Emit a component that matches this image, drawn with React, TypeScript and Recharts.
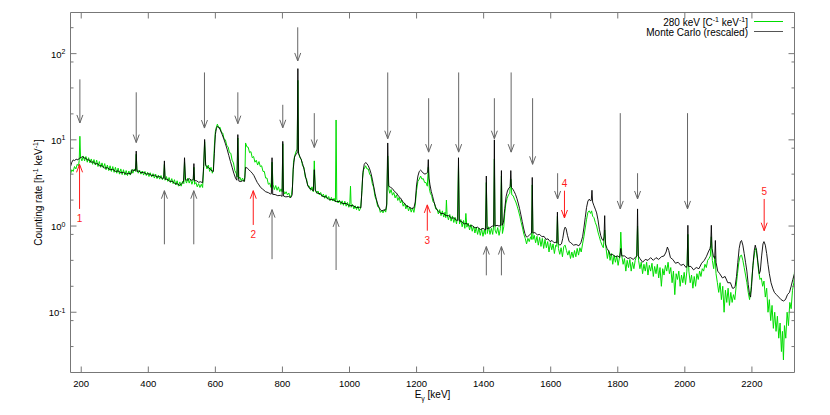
import React from 'react';
import { LineChart, Line, XAxis, YAxis, ReferenceLine, Legend } from 'recharts';

const W = 814;
const H = 399;
const AXIS = '#777';
const GREEN = '#00dd00';
const BLACK = '#000000';
const ARROW = '#666666';
const RED = '#ff1a1a';
const FONT = '"Liberation Sans", Arial, Helvetica, sans-serif';

const X_DOMAIN: [number, number] = [168, 2327];
const Y_DOMAIN: [number, number] = [0.02, 300];
const X_TICKS = [200, 400, 600, 800, 1000, 1200, 1400, 1600, 1800, 2000, 2200];
const Y_MAJOR = [0.1, 1, 10, 100];
const Y_MINOR = [0.04, 0.08, 0.2, 0.4, 0.8, 2, 4, 8, 20, 40, 80, 200];
const Y_TICKS = [...Y_MINOR, ...Y_MAJOR].sort((a, b) => a - b);
const Y_EXP: Record<string, string> = { '0.1': '-1', '1': '0', '10': '1', '100': '2' };

// Measured spectrum, 280 keV [C^-1 keV^-1]: [energy keV, rate]
const measured: [number, number][] = [
[168,4.0],[172,4.5],[176,4.3],[180,4.9],[184,4.6],[188,5.2],[192,5.0],[194,5.8],[196,11],[198,6.3],[202,5.7],[206,6.5],[210,5.7],[214,6.4],[218,5.5],[222,6.2],[226,5.4],[230,6.0],[234,5.2],[238,5.9],[242,5.1],[246,5.8],[250,4.9],[254,5.6],[258,4.8],[262,5.4],[266,4.7],[270,5.3],[274,4.5],[278,5.1],[282,4.4],[286,5.0],[290,4.3],[294,4.9],[298,4.2],[302,4.8],[306,4.1],[310,4.7],[314,4.0],[318,4.6],[322,3.95],[326,4.5],[330,3.9],[334,4.4],[338,3.85],[342,4.35],[346,3.9],[350,4.5],[354,4.1],[358,4.6],[362,4.3],[364,6.8],[366,4.6],[370,4.1],[374,4.45],[378,4.0],[382,4.35],[386,3.9],[390,4.3],[394,3.85],[398,4.2],[402,3.75],[406,4.15],[410,3.7],[414,4.05],[418,3.6],[422,4.0],[426,3.55],[430,3.9],[434,3.5],[438,3.85],[442,3.45],[446,3.8],[448,5.2],[450,3.4],[454,3.75],[458,3.3],[462,3.65],[466,3.2],[470,3.55],[474,3.1],[478,3.45],[482,3.0],[486,3.35],[490,2.9],[494,3.25],[498,2.9],[502,3.3],[506,3.1],[508,5.5],[510,3.5],[514,3.15],[518,3.6],[522,3.15],[526,3.5],[530,3.05],[534,3.4],[536,4.8],[538,3.05],[542,3.2],[546,2.85],[550,3.1],[554,2.8],[558,3.05],[562,2.8],[565,4.6],[568,9.5],[571,5.2],[575,4.6],[579,5.1],[583,4.3],[587,4.8],[591,4.1],[594,4.5],[597,8.5],[600,12.5],[603,14.0],[606,15.2],[610,13.8],[614,14.0],[618,12.2],[622,12.0],[626,10.2],[630,10.0],[634,8.6],[638,8.3],[642,7.1],[646,7.0],[650,5.8],[654,5.4],[658,4.4],[662,4.1],[665,3.7],[667,10.5],[669,3.5],[673,3.7],[677,3.35],[681,3.6],[685,3.3],[688,3.65],[690,9.2],[694,8.3],[698,8.2],[702,7.1],[706,7.3],[710,6.2],[714,6.4],[718,5.5],[722,5.8],[726,5.1],[730,5.6],[734,4.9],[738,5.0],[742,4.3],[746,4.3],[750,3.6],[754,3.6],[758,3.05],[762,3.15],[766,2.8],[769,5.5],[772,3.05],[776,2.65],[780,2.95],[784,2.6],[788,2.85],[792,2.5],[796,2.7],[799,2.5],[801,9.0],[803,2.6],[807,2.35],[811,2.5],[815,2.3],[819,2.42],[823,2.15],[827,2.3],[830,2.9],[833,5.5],[837,6.6],[841,7.4],[844,7.8],[846,49],[848,7.2],[852,6.2],[856,6.0],[860,5.0],[864,4.8],[868,3.7],[872,3.5],[876,2.9],[880,2.9],[884,2.6],[888,2.85],[892,2.5],[895,5.7],[898,2.65],[902,2.4],[906,2.55],[910,2.3],[914,2.45],[918,2.2],[922,2.35],[926,2.1],[930,2.3],[934,2.05],[938,2.2],[942,1.98],[946,2.15],[950,1.95],[954,2.1],[958,1.9],[960,17],[962,2.05],[966,1.85],[970,2.0],[974,1.78],[978,1.96],[982,1.74],[986,1.94],[990,1.7],[994,1.88],[998,1.65],[1001,1.85],[1003,2.9],[1005,1.65],[1009,1.78],[1013,1.58],[1017,1.72],[1021,1.55],[1025,1.7],[1029,1.5],[1033,1.62],[1036,2.2],[1039,3.6],[1042,4.5],[1045,4.7],[1048,5.0],[1052,4.6],[1056,4.6],[1060,4.0],[1064,3.8],[1068,3.1],[1072,2.8],[1076,2.2],[1080,2.0],[1084,1.68],[1088,1.65],[1092,1.44],[1096,1.52],[1100,1.42],[1104,1.55],[1108,1.45],[1111,1.72],[1114,6.5],[1117,2.7],[1120,2.4],[1124,2.65],[1128,2.28],[1132,2.45],[1136,2.12],[1140,2.3],[1144,1.98],[1148,2.15],[1152,1.85],[1156,2.0],[1160,1.7],[1164,1.85],[1168,1.58],[1172,1.75],[1176,1.5],[1180,1.66],[1184,1.45],[1188,1.62],[1192,1.44],[1196,1.75],[1200,2.6],[1204,3.3],[1208,3.5],[1212,3.8],[1216,3.5],[1220,3.55],[1224,3.2],[1228,3.2],[1232,2.9],[1235,4.8],[1238,2.75],[1241,2.4],[1245,2.25],[1249,1.92],[1253,1.85],[1257,1.58],[1261,1.58],[1265,1.38],[1269,1.55],[1273,1.32],[1277,1.5],[1281,1.27],[1285,1.45],[1287,1.25],[1289,2.0],[1291,1.35],[1295,1.18],[1299,1.36],[1303,1.14],[1307,1.31],[1311,1.1],[1315,1.26],[1319,1.06],[1322,1.24],[1325,5.0],[1328,1.06],[1332,1.19],[1336,0.98],[1340,1.16],[1344,0.94],[1347,1.4],[1350,0.97],[1354,1.08],[1358,0.9],[1362,1.04],[1366,0.87],[1370,1.0],[1374,0.83],[1378,0.97],[1382,0.8],[1386,0.95],[1390,0.78],[1394,0.93],[1398,0.76],[1402,0.9],[1405,0.8],[1408,3.2],[1411,0.82],[1415,0.98],[1419,0.8],[1423,0.94],[1427,0.8],[1430,1.02],[1432,6],[1434,0.9],[1438,0.82],[1442,0.96],[1446,0.78],[1450,0.93],[1453,3.8],[1456,0.82],[1460,0.98],[1463,1.4],[1466,1.8],[1470,2.1],[1474,2.3],[1478,2.4],[1481,3.5],[1484,2.3],[1488,2.25],[1492,2.05],[1496,1.9],[1500,1.7],[1504,1.5],[1508,1.3],[1512,1.1],[1516,0.95],[1520,0.8],[1524,0.72],[1528,0.62],[1532,0.72],[1536,0.66],[1540,0.75],[1543,0.7],[1545,3.0],[1547,0.7],[1551,0.78],[1555,0.64],[1559,0.76],[1563,0.6],[1567,0.74],[1571,0.58],[1575,0.72],[1579,0.55],[1583,0.7],[1587,0.56],[1591,0.66],[1595,0.5],[1599,0.64],[1603,0.53],[1607,0.62],[1611,0.48],[1615,0.6],[1618,0.58],[1620,1.3],[1623,0.55],[1627,0.47],[1631,0.56],[1635,0.44],[1639,0.58],[1643,0.6],[1647,0.52],[1651,0.46],[1655,0.52],[1659,0.42],[1663,0.5],[1667,0.43],[1671,0.52],[1675,0.44],[1679,0.55],[1683,0.46],[1687,0.56],[1691,0.5],[1695,0.62],[1699,0.75],[1703,0.95],[1707,1.2],[1711,1.45],[1715,1.5],[1719,1.4],[1722,1.5],[1725,1.3],[1729,1.25],[1733,1.1],[1737,1.0],[1741,0.85],[1745,0.75],[1749,0.66],[1753,0.6],[1757,0.56],[1761,0.9],[1765,0.55],[1769,0.42],[1773,0.52],[1777,0.4],[1781,0.48],[1785,0.36],[1789,0.46],[1793,0.38],[1797,0.45],[1801,0.35],[1805,0.43],[1807,0.5],[1809,0.85],[1812,0.45],[1816,0.36],[1820,0.42],[1824,0.3],[1828,0.4],[1832,0.33],[1836,0.41],[1840,0.3],[1844,0.38],[1848,0.32],[1852,0.4],[1856,0.45],[1859,1.0],[1862,0.4],[1866,0.32],[1870,0.38],[1874,0.28],[1878,0.36],[1882,0.3],[1886,0.38],[1890,0.27],[1894,0.35],[1898,0.3],[1902,0.37],[1906,0.26],[1910,0.34],[1914,0.28],[1918,0.36],[1922,0.25],[1926,0.33],[1930,0.2],[1934,0.32],[1938,0.27],[1942,0.35],[1946,0.3],[1950,0.38],[1954,0.28],[1958,0.33],[1962,0.22],[1966,0.3],[1970,0.16],[1974,0.28],[1978,0.24],[1982,0.3],[1986,0.2],[1990,0.27],[1994,0.22],[1998,0.29],[2002,0.21],[2006,0.3],[2009,0.8],[2012,0.3],[2016,0.22],[2020,0.27],[2024,0.19],[2028,0.26],[2032,0.2],[2036,0.28],[2040,0.24],[2044,0.3],[2048,0.26],[2052,0.32],[2056,0.3],[2060,0.36],[2064,0.33],[2068,0.4],[2072,0.42],[2076,0.45],[2079,0.75],[2082,0.4],[2086,0.32],[2090,0.45],[2093,0.28],[2097,0.22],[2101,0.17],[2105,0.22],[2109,0.14],[2113,0.2],[2117,0.1],[2121,0.18],[2125,0.13],[2129,0.19],[2133,0.12],[2137,0.17],[2141,0.13],[2145,0.16],[2149,0.14],[2153,0.2],[2157,0.28],[2161,0.38],[2165,0.45],[2169,0.46],[2173,0.4],[2177,0.33],[2181,0.27],[2185,0.22],[2189,0.17],[2193,0.14],[2197,0.18],[2201,0.28],[2205,0.4],[2209,0.52],[2212,0.55],[2216,0.42],[2220,0.3],[2224,0.24],[2228,0.25],[2232,0.2],[2236,0.23],[2240,0.15],[2244,0.19],[2248,0.1],[2252,0.14],[2256,0.08],[2260,0.12],[2264,0.065],[2268,0.1],[2272,0.06],[2276,0.09],[2280,0.05],[2284,0.075],[2288,0.035],[2291,0.06],[2294,0.028],[2297,0.07],[2301,0.05],[2305,0.1],[2309,0.07],[2313,0.13],[2317,0.11],[2321,0.18],[2325,0.22],[2327,0.3]
];

// Monte Carlo (rescaled): [energy keV, rate]
const monteCarlo: [number, number][] = [
[168,4.9],[172,5.5],[176,5.85],[180,5.75],[185,5.95],[190,5.85],[195,6.15],[200,6.25],[204,6.4],[208,6.15],[213,6.15],[218,5.85],[224,5.85],[230,5.5],[236,5.55],[242,5.25],[248,5.3],[255,5.0],[262,5.0],[270,4.7],[278,4.75],[286,4.5],[294,4.55],[302,4.3],[310,4.35],[318,4.15],[326,4.2],[334,4.0],[342,4.1],[348,4.0],[352,4.5],[356,4.4],[362,4.45],[364,7.4],[366,4.3],[372,4.35],[378,4.15],[386,4.2],[394,4.0],[402,4.05],[410,3.85],[418,3.9],[426,3.7],[434,3.75],[442,3.55],[446,3.6],[448,5.7],[450,3.5],[456,3.5],[464,3.3],[472,3.3],[480,3.1],[488,3.08],[494,2.95],[500,3.12],[505,3.25],[508,6.2],[511,3.45],[516,3.4],[522,3.55],[528,3.4],[534,3.45],[536,5.3],[538,3.35],[544,3.35],[550,3.22],[556,3.26],[562,3.18],[565,4.9],[568,10.1],[571,5.05],[575,4.9],[580,4.75],[585,4.55],[590,4.35],[594,4.3],[597,7],[600,11.5],[603,13.5],[606,14.3],[610,14.0],[615,13.0],[620,11.6],[625,10.3],[630,9.0],[635,7.8],[640,6.6],[645,5.6],[650,4.8],[655,4.1],[660,3.6],[664,3.4],[667,11.5],[670,3.32],[676,3.28],[682,3.37],[687,3.3],[690,4.8],[695,4.7],[700,4.5],[705,4.3],[710,4.1],[715,3.85],[720,3.5],[725,3.2],[730,3.0],[735,2.8],[740,2.7],[745,2.6],[750,2.5],[758,2.44],[764,2.36],[767,2.37],[769,6.2],[771,2.33],[778,2.32],[786,2.25],[794,2.27],[799,2.21],[801,9.6],[803,2.23],[810,2.18],[818,2.2],[825,2.14],[829,2.3],[832,4.5],[836,6.3],[840,6.8],[844,7.0],[846,67],[848,6.9],[852,6.4],[856,5.9],[860,5.3],[865,4.5],[870,3.6],[875,3.0],[880,2.75],[886,2.7],[892,2.55],[895,4.5],[898,2.6],[904,2.4],[912,2.38],[920,2.2],[930,2.18],[940,2.02],[950,2.03],[960,1.92],[970,1.93],[980,1.82],[990,1.83],[1000,1.72],[1010,1.73],[1020,1.64],[1030,1.65],[1034,1.63],[1037,2.6],[1040,4.2],[1044,5.2],[1048,5.45],[1052,5.3],[1056,5.0],[1060,4.6],[1064,4.1],[1068,3.5],[1072,2.9],[1076,2.4],[1080,2.05],[1084,1.8],[1088,1.65],[1092,1.55],[1096,1.5],[1102,1.53],[1108,1.54],[1111,1.8],[1114,9.2],[1117,2.9],[1122,2.82],[1128,2.72],[1134,2.52],[1140,2.42],[1146,2.22],[1152,2.12],[1158,1.93],[1164,1.84],[1170,1.7],[1176,1.68],[1184,1.6],[1192,1.62],[1196,1.9],[1200,3.0],[1204,3.8],[1208,4.3],[1212,4.45],[1216,4.3],[1220,4.1],[1225,4.0],[1230,4.1],[1233,4.2],[1235,5.9],[1237,3.6],[1240,3.0],[1244,2.5],[1248,2.2],[1252,1.9],[1256,1.7],[1260,1.55],[1265,1.5],[1272,1.4],[1280,1.4],[1288,1.32],[1296,1.32],[1304,1.24],[1312,1.24],[1320,1.16],[1323,1.17],[1325,6.2],[1327,1.15],[1334,1.13],[1342,1.06],[1350,1.07],[1358,1.0],[1366,1.01],[1374,0.95],[1382,0.97],[1390,0.91],[1398,0.94],[1406,0.9],[1408,3.8],[1410,0.93],[1418,0.95],[1426,1.0],[1430,0.99],[1432,10],[1434,1.0],[1440,1.02],[1446,1.0],[1451,1.02],[1453,4.4],[1455,1.02],[1459,1.1],[1463,1.6],[1467,2.2],[1471,2.55],[1475,2.75],[1479,2.85],[1481,4.4],[1483,2.8],[1487,2.68],[1491,2.52],[1495,2.33],[1499,2.1],[1503,1.85],[1507,1.6],[1511,1.35],[1515,1.13],[1519,0.95],[1523,0.82],[1527,0.75],[1531,0.75],[1537,0.79],[1543,0.83],[1545,3.66],[1547,0.83],[1553,0.84],[1560,0.79],[1567,0.8],[1574,0.75],[1580,0.76],[1586,0.7],[1592,0.71],[1598,0.66],[1604,0.68],[1610,0.64],[1616,0.65],[1618,0.64],[1620,1.45],[1622,0.63],[1627,0.6],[1632,0.62],[1636,0.72],[1640,0.9],[1643,0.97],[1646,0.93],[1650,0.78],[1655,0.66],[1660,0.64],[1668,0.6],[1676,0.61],[1684,0.59],[1690,0.64],[1695,0.75],[1699,0.95],[1703,1.25],[1707,1.65],[1711,1.95],[1715,2.05],[1719,1.95],[1721,2.0],[1723,2.6],[1725,1.9],[1729,1.72],[1733,1.57],[1737,1.42],[1741,1.18],[1745,0.92],[1749,0.78],[1753,0.7],[1757,0.68],[1759,0.75],[1761,1.32],[1763,0.62],[1768,0.55],[1773,0.51],[1778,0.46],[1785,0.47],[1792,0.44],[1800,0.45],[1806,0.43],[1809,0.55],[1812,0.45],[1820,0.45],[1830,0.42],[1838,0.43],[1846,0.41],[1852,0.43],[1857,0.45],[1859,1.58],[1861,0.45],[1866,0.42],[1874,0.38],[1882,0.41],[1890,0.4],[1898,0.43],[1906,0.4],[1914,0.43],[1922,0.41],[1930,0.44],[1938,0.45],[1944,0.5],[1948,0.57],[1952,0.52],[1957,0.43],[1964,0.41],[1972,0.37],[1980,0.38],[1988,0.35],[1996,0.36],[2004,0.33],[2007,0.35],[2009,1.02],[2011,0.34],[2018,0.34],[2026,0.31],[2034,0.33],[2042,0.32],[2050,0.37],[2058,0.4],[2064,0.44],[2070,0.5],[2075,0.55],[2077,0.6],[2079,1.02],[2081,0.55],[2085,0.45],[2089,0.42],[2091,0.68],[2093,0.38],[2098,0.3],[2104,0.28],[2112,0.25],[2120,0.26],[2128,0.22],[2136,0.22],[2142,0.19],[2146,0.19],[2150,0.2],[2154,0.26],[2158,0.38],[2162,0.55],[2166,0.66],[2169,0.68],[2173,0.6],[2177,0.48],[2181,0.38],[2185,0.3],[2189,0.21],[2193,0.16],[2196,0.15],[2199,0.2],[2203,0.35],[2207,0.52],[2210,0.6],[2214,0.52],[2218,0.38],[2222,0.28],[2225,0.3],[2229,0.45],[2233,0.62],[2236,0.66],[2240,0.6],[2244,0.48],[2248,0.36],[2252,0.28],[2257,0.22],[2262,0.19],[2267,0.17],[2273,0.16],[2280,0.15],[2287,0.14],[2294,0.135],[2300,0.14],[2306,0.16],[2312,0.17],[2317,0.2],[2322,0.24],[2327,0.28]
];

// Annotation arrows: [energy, tail value, tip value]
const downArrows: [number, number, number][] = [
  [196, 50.3, 15.7], [364, 35.6, 9.3], [567.5, 60.5, 13.7], [667, 35.6, 15.4],
  [801, 25.5, 13.8], [845.6, 202, 82.2], [895, 20.4, 8.15], [1114, 60.5, 10.3],
  [1236, 30.4, 7.2], [1325.5, 60.5, 7.2], [1432, 30.4, 10.3], [1482, 60.5, 7.2],
  [1546, 30.4, 5.2], [1620.6, 4.1, 2.06], [1807.4, 20.4, 1.58], [1859, 4.1, 2.06],
  [2008, 20.4, 1.58],
];
const upArrows: [number, number, number][] = [
  [448, 0.614, 2.57], [535.6, 0.614, 2.57], [769, 0.413, 1.55], [960, 0.309, 1.21],
  [1408, 0.268, 0.578], [1453, 0.268, 0.578],
];
// [label, energy, tail value, tip value]
const redArrows: [string, number, number, number][] = [
  ['1', 195, 1.58, 5.2], ['2', 713, 1.03, 2.57], ['3', 1232, 0.883, 1.76],
  ['4', 1641, 2.57, 1.24], ['5', 2236.6, 2.06, 0.883],
];

const measuredData = measured.map(([e, v]) => ({ e, v }));
const mcData = monteCarlo.map(([e, v]) => ({ e, v }));

const makeArrow = (color: string, label?: string) => (p: any) => {
  const x1 = Number(p.x1), y1 = Number(p.y1), x2 = Number(p.x2), y2 = Number(p.y2);
  const dx = x2 - x1, dy = y2 - y1;
  const len = Math.hypot(dx, dy) || 1;
  const ux = dx / len, uy = dy / len;
  const hl = 8, hw = 3;
  const bx = x2 - ux * hl, by = y2 - uy * hl;
  const nx = -uy, ny = ux;
  const up = y2 < y1;
  return (
    <g>
      <line x1={x1} y1={y1} x2={x2} y2={y2} stroke={color} strokeWidth={1} />
      <polyline
        points={`${bx + nx * hw},${by + ny * hw} ${x2},${y2} ${bx - nx * hw},${by - ny * hw}`}
        fill="none" stroke={color} strokeWidth={1}
      />
      {label && (
        <text x={x1} y={up ? y1 + 13 : y1 - 3.5} textAnchor="middle" fill={color}
          fontSize={10} fontFamily={FONT}>{label}</text>
      )}
    </g>
  );
};

const LeftTick = (props: any) => {
  const { x, y, payload } = props;
  const v = payload.value;
  const major = Y_MAJOR.includes(v);
  return (
    <g>
      <line x1={x} y1={y} x2={x + (major ? 6 : 3)} y2={y} stroke={AXIS} />
      {major && (
        <text x={x - 5} y={y + 4} textAnchor="end" fontSize={9.5} fontFamily={FONT} fill="#000">
          10<tspan dy={-3.5} fontSize={7}>{Y_EXP[String(v)]}</tspan>
        </text>
      )}
    </g>
  );
};

const RightTick = (props: any) => {
  const { x, y, payload } = props;
  const major = Y_MAJOR.includes(payload.value);
  return <line x1={x} y1={y} x2={x - (major ? 6 : 3)} y2={y} stroke={AXIS} />;
};

const BottomTick = (props: any) => {
  const { x, y, payload } = props;
  return (
    <g>
      <line x1={x} y1={y} x2={x} y2={y - 6} stroke={AXIS} />
      <text x={x} y={y + 14} textAnchor="middle" fontSize={9.5} fontFamily={FONT} fill="#000">
        {payload.value}
      </text>
    </g>
  );
};

const TopTick = (props: any) => {
  const { x, y } = props;
  return <line x1={x} y1={y} x2={x} y2={y + 6} stroke={AXIS} />;
};

const YLabel = (p: any) => {
  const vb = p.viewBox || {};
  const cx = vb.x + 21;
  const cy = vb.y + vb.height / 2;
  return (
    <text x={cx} y={cy} transform={`rotate(-90 ${cx} ${cy})`} textAnchor="middle"
      fontSize={10} fontFamily={FONT} fill="#000">
      Counting rate [h<tspan dy={-4} fontSize={7}>-1</tspan>
      <tspan dy={4}> keV</tspan><tspan dy={-4} fontSize={7}>-1</tspan><tspan dy={4}>]</tspan>
    </text>
  );
};

const XLabel = (p: any) => {
  const vb = p.viewBox || {};
  const cx = vb.x + vb.width / 2;
  const cy = vb.y + 25.5;
  return (
    <text x={cx} y={cy} textAnchor="middle" fontSize={10} fontFamily={FONT} fill="#000">
      E<tspan dy={3} fontSize={7}>γ</tspan><tspan dy={-3}> [keV]</tspan>
    </text>
  );
};

const LegendBox = () => (
  <svg width={190} height={26} style={{ display: 'block', overflow: 'visible' }}>
    <text x={150} y={12} textAnchor="end" fontSize={10} fontFamily={FONT} fill="#000">
      280 keV [C<tspan dy={-4} fontSize={7}>-1</tspan><tspan dy={4}> keV</tspan>
      <tspan dy={-4} fontSize={7}>-1</tspan><tspan dy={4}>]</tspan>
    </text>
    <line x1={156} x2={185} y1={7.5} y2={7.5} stroke={GREEN} strokeWidth={1} />
    <text x={150} y={21.5} textAnchor="end" fontSize={10} fontFamily={FONT} fill="#000">
      Monte Carlo (rescaled)
    </text>
    <line x1={156} x2={185} y1={17.5} y2={17.5} stroke="#555" strokeWidth={1} />
  </svg>
);

export default function App() {
  return (
    <div style={{ width: W, height: H }}>
      <LineChart width={W} height={H} margin={{ top: 3.5, right: 17.5, bottom: 0.5, left: 12.5 }}>
        <XAxis dataKey="e" type="number" domain={X_DOMAIN} allowDataOverflow ticks={X_TICKS}
          interval={0} height={34} tickSize={0} tickMargin={0} tickLine={false}
          axisLine={{ stroke: AXIS }} tick={BottomTick} label={{ content: XLabel }} />
        <XAxis xAxisId="top" orientation="top" dataKey="e" type="number" domain={X_DOMAIN}
          allowDataOverflow ticks={X_TICKS} interval={0} height={1} tickSize={0} tickMargin={0}
          tickLine={false} axisLine={{ stroke: AXIS }} tick={TopTick} />
        <YAxis scale="log" type="number" domain={Y_DOMAIN} allowDataOverflow ticks={Y_TICKS}
          interval={0} width={50} tickSize={0} tickMargin={0} tickLine={false}
          axisLine={{ stroke: AXIS }} tick={LeftTick} label={{ content: YLabel }} />
        <YAxis yAxisId="right" orientation="right" scale="log" type="number" domain={Y_DOMAIN}
          allowDataOverflow ticks={Y_TICKS} interval={0} width={10} tickSize={0} tickMargin={0}
          tickLine={false} axisLine={{ stroke: AXIS }} tick={RightTick} />
        <Legend layout="horizontal" verticalAlign="middle" align="center"
          wrapperStyle={{ left: 590, top: 6, width: 190, height: 26 }} content={() => <LegendBox />} />
        <Line data={measuredData} dataKey="v" type="linear" stroke={GREEN} strokeWidth={1}
          dot={false} activeDot={false} isAnimationActive={false} />
        <Line data={mcData} dataKey="v" type="linear" stroke={BLACK} strokeWidth={0.9}
          dot={false} activeDot={false} isAnimationActive={false} />
        {downArrows.map(([e, a, b], i) => (
          <ReferenceLine key={`d${i}`} segment={[{ x: e, y: a }, { x: e, y: b }]} shape={makeArrow(ARROW)} />
        ))}
        {upArrows.map(([e, a, b], i) => (
          <ReferenceLine key={`u${i}`} segment={[{ x: e, y: a }, { x: e, y: b }]} shape={makeArrow(ARROW)} />
        ))}
        {redArrows.map(([lab, e, a, b], i) => (
          <ReferenceLine key={`r${i}`} segment={[{ x: e, y: a }, { x: e, y: b }]} shape={makeArrow(RED, lab)} />
        ))}
      </LineChart>
    </div>
  );
}
